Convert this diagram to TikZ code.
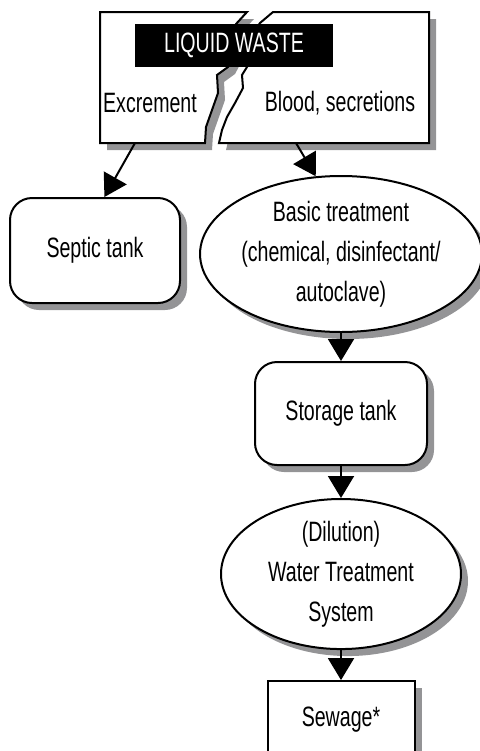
\documentclass[tikz,border=0pt]{standalone}
\usepackage{fontspec}
\setmainfont[FakeStretch=0.7]{Liberation Sans}
\usetikzlibrary{arrows.meta, positioning, shapes.geometric, shadows}
\definecolor{shadowgray}{rgb}{0.58,0.58,0.59}
\tikzset{
  shadowed/.style={drop shadow={shadow xshift=3.5pt,shadow yshift=-3.5pt,opacity=1,fill=shadowgray}},
  tank/.style={rectangle,draw,fill=white,rounded corners=11pt,line width=1pt,align=center,inner sep=0pt,shadowed},
  proc/.style={ellipse,draw,fill=white,line width=1pt,align=center,inner sep=0pt,shadowed},
  outbox/.style={rectangle,draw,fill=white,line width=1pt,align=center,inner sep=0pt,shadowed},
  line/.style={-{Triangle[length=11pt,width=13pt]},line width=1pt},
  every node/.style={font=\fontsize{14}{20}\selectfont}
}

\begin{document}
\begin{tikzpicture}[x=0.5pt,y=-0.5pt]
\useasboundingbox (0,0) rectangle (479,751);
% split source box
\begin{scope}[xshift=3.5pt,yshift=-3.5pt]
\fill[shadowgray] (100,12) -- (247,12) -- (236,24) -- (232,40) -- (236,52) -- (228,67) -- (217,75) -- (218,93) -- (212,110) -- (206,127) -- (205,143) -- (100,143) -- cycle;
\fill[shadowgray] (273,12) -- (429,12) -- (429,143) -- (219,143) -- (222,130) -- (227,117) -- (235,103) -- (243,88) -- (242,75) -- (247,67) -- (252,52) -- (250,38) -- (260,23) -- cycle;
\end{scope}
\draw[fill=white,line width=1pt] (100,12) -- (247,12) -- (236,24) -- (232,40) -- (236,52) -- (228,67) -- (217,75) -- (218,93) -- (212,110) -- (206,127) -- (205,143) -- (100,143) -- cycle;
\draw[fill=white,line width=1pt] (273,12) -- (429,12) -- (429,143) -- (219,143) -- (222,130) -- (227,117) -- (235,103) -- (243,88) -- (242,75) -- (247,67) -- (252,52) -- (250,38) -- (260,23) -- cycle;
\node[fill=black,text=white,minimum width=99pt,minimum height=21.5pt,inner sep=0pt] (liquid) at (234,45.5) {LIQUID WASTE};
\node (excr) at (150,103) {Excrement};
\node (blood) at (340,103) {Blood, secretions};
\coordinate (exout) at (135,143);
\coordinate (blout) at (296,143);

\node[tank,minimum width=85pt,minimum height=52.5pt] (septic) at (95,250.5) {Septic tank};
\node[proc,minimum width=127pt,minimum height=78pt] (basic) at (341,254) {Basic treatment\\(chemical, disinfectant/\\autoclave)};
\node[tank,minimum width=86pt,minimum height=51.5pt,below=14pt of basic] (storage) {Storage tank};
\node[proc,minimum width=120pt,minimum height=73.5pt,below=16pt of storage] (water) {(Dilution)\\Water Treatment\\System};
\node[outbox,minimum width=73.5pt,minimum height=39pt,below=15pt of water] (sewage) {Sewage*};

\draw[line] (exout) -- (septic.80);
\draw[line] (blout) -- (basic.108);
\draw[line] (basic) -- (storage);
\draw[line] (storage) -- (water);
\draw[line] (water) -- (sewage);
\end{tikzpicture}
\end{document}
